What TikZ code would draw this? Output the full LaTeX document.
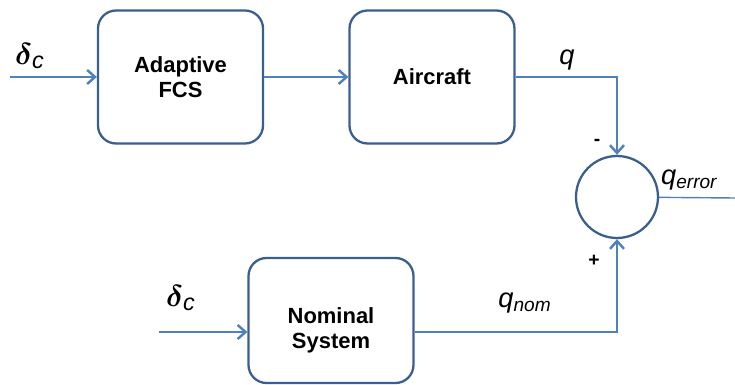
\documentclass[tikz,border=0pt]{standalone}
\usepackage{fontspec}
\usepackage{amsmath}
\setmainfont{Liberation Sans}
\usetikzlibrary{arrows.meta}
\definecolor{boxblue}{HTML}{3A5F8F}
\definecolor{linkblue}{HTML}{4F81BD}
\tikzset{
  sysbox/.style={draw=boxblue,line width=1.3pt,rounded corners=0.36cm,minimum width=3.3cm,minimum height=2.66cm,align=center,font=\fontsize{12.5}{14.5}\selectfont\bfseries},
  link/.style={draw=linkblue,line width=1.4pt,-{Straight Barb[length=4.5pt,width=8pt]}},
  sig/.style={font=\fontsize{15.5}{17}\selectfont},
  cmd/.style={font=\fontsize{19}{21}\selectfont},
  sign/.style={font=\fontsize{11}{12}\selectfont\bfseries},
}
\begin{document}
\begin{tikzpicture}[x=0.02cm,y=-0.02cm]
  \useasboundingbox (0,0) rectangle (735,385);
  % blocks
  \node[sysbox] (fcs) at (180.5,77) {Adaptive\\FCS};
  \node[sysbox] (ac) at (432,77) {Aircraft};
  \node[sysbox,minimum height=2.5cm,
    label={[align=center,font=\fontsize{12.5}{14.5}\selectfont\bfseries,yshift=-0.2cm]center:Nominal\\System}] (nom) at (331,320.5) {};
  \node[draw=boxblue,line width=1.3pt,circle,minimum size=1.64cm] (sum) at (617,197) {};
  % free ends
  \coordinate (in1) at (10,77);
  \coordinate (in2) at (159,332);
  \coordinate (out) at (735,198);
  % connectors
  \draw[link] (in1) -- (fcs);
  \draw[link] (fcs) -- (ac);
  \draw[link] (ac.east) -| (sum.north);
  \draw[link] (in2) -- (in2 -| nom.west);
  \draw[link] (in2 -| nom.east) -| (sum.south);
  \draw[linkblue,line width=0.8pt] (sum) -- (out);
  % signal labels
  \node[cmd] (dc1) at (30,56) {$\boldsymbol{\delta}_{\textit{c}}$};
  \node[cmd] (dc2) at (181,298) {$\boldsymbol{\delta}_{\textit{c}}$};
  \node[sig] (qlab) at (567,60) {\textit{q}};
  \node[sig,anchor=west] (qerr) at (655,180) {\textit{q}$_{\textit{error}}$};
  \node[sig] (qnom) at (525,303) {\textit{q}$_{\textit{nom}}$};
  \node[sign] (minus) at (597,142) {-};
  \node[sign] (plus) at (594,261) {+};
\end{tikzpicture}
\end{document}
